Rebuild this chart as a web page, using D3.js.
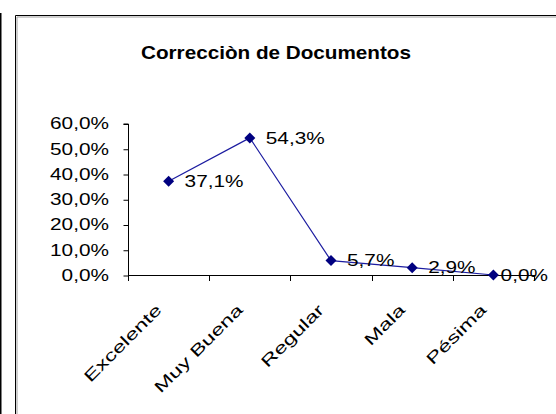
<!DOCTYPE html>
<html>
<head>
<meta charset="utf-8">
<script src="https://cdn.jsdelivr.net/npm/d3@7"></script>
<style>
  html, body { margin: 0; padding: 0; background: #fff; }
  svg { display: block; }
  text { font-family: "Liberation Sans", Arial, sans-serif; fill: #000; }
</style>
</head>
<body>
<svg id="chart" width="556" height="414"></svg>
<script>
// Survey results for document correction quality
const title = "Correcciòn de Documentos";
const categories = ["Excelente", "Muy Buena", "Regular", "Mala", "Pésima"];
const values = [0.371, 0.543, 0.057, 0.029, 0.0];
const valueLabels = ["37,1%", "54,3%", "5,7%", "2,9%", "0,0%"];
const yTicks = [0, 0.1, 0.2, 0.3, 0.4, 0.5, 0.6];
const yTickLabels = ["0,0%", "10,0%", "20,0%", "30,0%", "40,0%", "50,0%", "60,0%"];

const svg = d3.select("#chart");
const W = 556, H = 414;

// Frame: page rule on the far left and the chart area border with soft shadow
svg.append("line").attr("x1", 0.75).attr("x2", 0.75).attr("y1", 13).attr("y2", H)
  .attr("stroke", "#000").attr("stroke-width", 1.5);
svg.append("path").attr("d", `M15.5,${H} V15.5 H${W}`)
  .attr("fill", "none").attr("stroke", "#000").attr("stroke-width", 1);
svg.append("path").attr("d", `M17,${H} V17 H${W}`)
  .attr("fill", "none").attr("stroke", "#a0a0a0").attr("stroke-width", 1);

// Title
const STRETCH = 1.3;
svg.append("text")
  .attr("transform", `translate(276,59) scale(1.15,1)`)
  .attr("text-anchor", "middle")
  .attr("font-weight", "bold")
  .attr("font-size", 18)
  .text(title);

// Scales
const plot = { left: 128, right: 534, top: 123.5, bottom: 275 };
const x = d3.scaleBand().domain(categories).range([plot.left, plot.right]).padding(0);
const y = d3.scaleLinear().domain([0, 0.6]).range([plot.bottom, plot.top]);

// Y axis
const yAxis = d3.axisLeft(y).tickValues(yTicks).tickSize(5).tickFormat(() => "");
const gy = svg.append("g").attr("transform", `translate(${plot.left + 0.5},0.5)`).call(yAxis);
gy.select(".domain").attr("d", `M-5,${y(0.6)}H0V${plot.bottom + 5}`).attr("stroke", "#000");
gy.selectAll(".tick line").attr("stroke", "#000");
svg.append("g").selectAll("text").data(yTicks).join("text")
  .attr("transform", (d) => `translate(109,${y(d)}) scale(${STRETCH},1)`)
  .attr("text-anchor", "end")
  .attr("dy", "0.36em")
  .attr("font-size", 16)
  .text((d, i) => yTickLabels[i]);

// X axis with ticks at category boundaries
const boundaries = categories.map((c) => x(c)).concat([plot.right]);
const gx = svg.append("g");
gx.append("line")
  .attr("x1", plot.left).attr("x2", plot.right)
  .attr("y1", y(0) + 0.5).attr("y2", y(0) + 0.5)
  .attr("stroke", "#000");
gx.selectAll("line.tick").data(boundaries).join("line").attr("class", "tick")
  .attr("x1", (d) => Math.round(d) + 0.5).attr("x2", (d) => Math.round(d) + 0.5)
  .attr("y1", y(0)).attr("y2", y(0) + 6)
  .attr("stroke", "#000");

// Rotated category labels
svg.append("g").selectAll("text").data(categories).join("text")
  .attr("transform", (d) => `translate(${x(d) + x.bandwidth() / 2 - 10},${y(0) + 32}) rotate(-45) scale(1.45,1)`)
  .attr("text-anchor", "end")
  .attr("dy", "0.35em")
  .attr("font-size", 16)
  .text((d) => d);

// Series line
const cx = (d, i) => x(categories[i]) + x.bandwidth() / 2;
const line = d3.line().x((d, i) => cx(d, i)).y((d) => y(d));
svg.append("path").datum(values)
  .attr("d", line)
  .attr("fill", "none")
  .attr("stroke", "#1c1ca0")
  .attr("stroke-width", 1.2);

// Diamond markers
const r = 5.5;
svg.append("g").selectAll("path").data(values).join("path")
  .attr("d", (d, i) => {
    const px = cx(d, i), py = y(d);
    return `M${px},${py - r}L${px + r},${py}L${px},${py + r}L${px - r},${py}Z`;
  })
  .attr("fill", "#000080");

// Value labels beside each point, kept inside the chart area
const labelRight = 548;
const vl = svg.append("g").selectAll("text").data(values).join("text")
  .attr("dy", "0.36em")
  .attr("font-size", 16)
  .text((d, i) => valueLabels[i]);
vl.each(function (d, i) {
  const w = this.getComputedTextLength() * STRETCH;
  const lx = Math.min(cx(d, i) + 16, labelRight - w);
  d3.select(this).attr("transform", `translate(${lx},${y(d)}) scale(${STRETCH},1)`);
});
</script>
</body>
</html>
